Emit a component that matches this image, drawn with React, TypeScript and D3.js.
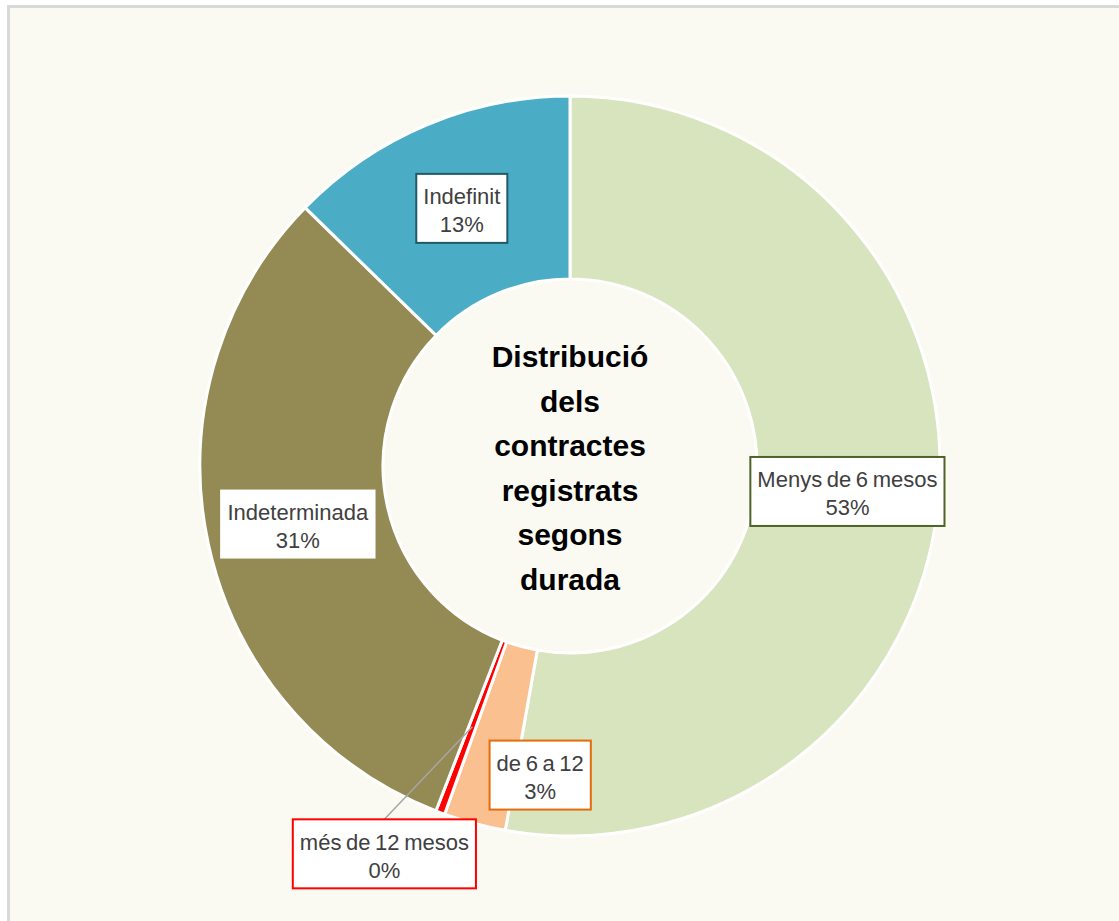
import React, { useEffect, useRef } from 'react';
import * as d3 from 'd3';

// categories and shares (%), clockwise from 12 o'clock
const categories = ['Menys de 6 mesos', 'de 6 a 12', 'més de 12 mesos', 'Indeterminada', 'Indefinit'];
const values = [52.8, 2.7, 0.4, 31.4, 12.7];
const colors = ['#D7E4BD', '#FAC090', '#FF0000', '#948A54', '#4BACC6'];
const labelBorders = ['#4F6228', '#E46C0A', '#FF0000', 'none', '#215967'];
// label shifts away from the slice centroid (only the small slices are moved)
const labelShift: [number, number][] = [[0, 2], [42, 41], [-88, 128], [0, 0], [0, 0]];
const leaderLine = [false, false, true, false, false];
const titleLines = ['Distribució', 'dels', 'contractes', 'registrats', 'segons', 'durada'];

const W = 1119;
const H = 921;

const App = () => {
  const ref = useRef<SVGSVGElement>(null);

  useEffect(() => {
    const svg = d3.select(ref.current);
    svg.selectAll('*').remove();

    svg.append('rect')
      .attr('x', 8.5).attr('y', 6.5)
      .attr('width', W + 10).attr('height', H + 10)
      .attr('fill', '#FAFAF2')
      .attr('stroke', '#D9D9D9')
      .attr('stroke-width', 3);

    const cx = 570, cy = 466;
    const outerR = 370, innerR = 187;

    const data = categories.map((c, i) => ({ name: c, value: values[i], i }));
    const pie = d3.pie<any>().value(d => d.value).sort(null);
    const arcs = pie(data);
    const arc = d3.arc<any>().innerRadius(innerR).outerRadius(outerR);

    const g = svg.append('g').attr('transform', `translate(${cx},${cy})`);

    g.selectAll('path.slice')
      .data(arcs)
      .enter()
      .append('path')
      .attr('class', 'slice')
      .attr('d', arc)
      .attr('fill', d => colors[d.data.i])
      .attr('stroke', '#fff')
      .attr('stroke-width', 3);

    const fmt = d3.format('.0%');
    const total = d3.sum(values);

    arcs.forEach(a => {
      const i = a.data.i;
      const [px, py] = arc.centroid(a);
      const lx = px + labelShift[i][0];
      const ly = py + labelShift[i][1];

      const lg = g.append('g').attr('transform', `translate(${lx},${ly})`);
      const text = lg.append('text')
        .attr('text-anchor', 'middle')
        .attr('font-family', 'Arial, "Liberation Sans", sans-serif')
        .attr('font-size', 22)
        .attr('word-spacing', -1.5)
        .attr('fill', '#404040');
      text.append('tspan').attr('x', 0).attr('y', -5).text(a.data.name);
      text.append('tspan').attr('x', 0).attr('y', 23).text(fmt(a.data.value / total));

      const bb = (text.node() as SVGTextElement).getBBox();
      const padX = 7;
      const bw = bb.width + padX * 2;
      const bh = 69;
      lg.insert('rect', 'text')
        .attr('x', -bw / 2).attr('y', -bh / 2 - 1)
        .attr('width', bw).attr('height', bh)
        .attr('fill', '#fff')
        .attr('stroke', labelBorders[i])
        .attr('stroke-width', 2);

      if (leaderLine[i]) {
        g.insert('line', 'g')
          .attr('x1', lx).attr('y1', ly - bh / 2 - 1)
          .attr('x2', px).attr('y2', py)
          .attr('stroke', '#A6A6A6')
          .attr('stroke-width', 1.5);
      }
    });

    const title = g.append('text')
      .attr('text-anchor', 'middle')
      .attr('font-family', 'Arial, "Liberation Sans", sans-serif')
      .attr('font-weight', 'bold')
      .attr('font-size', 30)
      .attr('fill', '#000');
    titleLines.forEach((t, k) => {
      title.append('tspan')
        .attr('x', 0)
        .attr('y', -99 + k * 44.6)
        .text(t);
    });
  }, []);

  return (
    <svg
      ref={ref}
      width={W}
      height={H}
      style={{ position: 'absolute', left: 0, top: 0, display: 'block' }}
    />
  );
};

export default App;
